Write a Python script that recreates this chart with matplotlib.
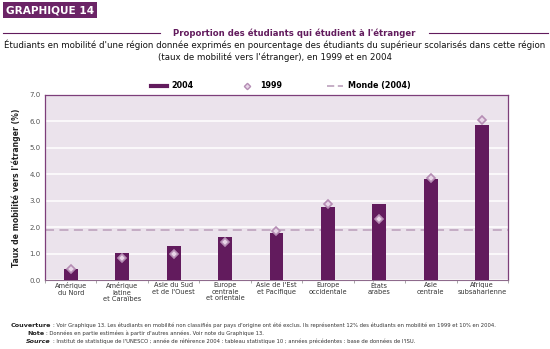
import numpy as np
import matplotlib.pyplot as plt
from matplotlib.lines import Line2D

# Taux de mobilité vers l'étranger (%) par région
regions = ["Amérique\ndu Nord", "Amérique\nlatine\net Caraïbes", "Asie du Sud\net de l'Ouest",
           "Europe\ncentrale\net orientale", "Asie de l'Est\net Pacifique", "Europe\noccidentale",
           "États\narabes", "Asie\ncentrale", "Afrique\nsubsaharienne"]
taux_2004 = [0.42, 1.04, 1.28, 1.63, 1.77, 2.76, 2.87, 3.83, 5.85]
taux_1999 = [0.40, 0.85, 1.00, 1.42, 1.84, 2.86, 2.30, 3.87, 6.05]
monde_2004 = 1.9
yticks = [0.0, 1.0, 2.0, 3.0, 4.0, 5.0, 6.0, 7.0]

violet = "#621b5d"
violet_clair = "#b58db4"
fond = "#ebe3ec"
tirets = "#c2a8c1"

plt.rcParams['font.family'] = ['DejaVu Sans']

fig = plt.figure(figsize=(5.5, 3.49), dpi=100)
ax = fig.add_axes([0.0818, 0.1977, 0.8418, 0.5301])

x = np.arange(len(regions))
ax.set_facecolor(fond)
ax.bar(x, taux_2004, width=0.27, color=violet, zorder=3)
ax.plot(x, taux_1999, linestyle='none', marker='D', markersize=4.2,
        markerfacecolor="#e8d6e8", markeredgecolor=violet_clair, markeredgewidth=1.2, zorder=4)
ax.axhline(monde_2004, color=tirets, linestyle=(0, (5, 3)), linewidth=1.3, zorder=2)

ax.set_xlim(-0.5, len(regions) - 0.5)
ax.set_ylim(0, 7)
ax.set_yticks(yticks)
ax.set_yticklabels([f"{v:.1f}" for v in yticks], fontsize=5, color="#555555")
ax.yaxis.grid(True, color="white", linewidth=1.1, zorder=1)
ax.set_axisbelow(True)

ax.set_xticks(x)
ax.set_xticklabels(regions, fontsize=4.8, color="#333333", linespacing=1.1)
ax.set_xticks(np.arange(len(regions) + 1) - 0.5, minor=True)
ax.tick_params(axis='x', which='major', length=0, pad=1.5)
ax.tick_params(axis='x', which='minor', length=2, color="#999999")
ax.tick_params(axis='y', length=0, pad=3)

for side in ['left', 'top', 'right']:
    ax.spines[side].set_color("#7d3e7a")
    ax.spines[side].set_linewidth(0.9)
ax.spines['bottom'].set_color("#8e6a8c")
ax.spines['bottom'].set_linewidth(0.8)

ax.set_ylabel("Taux de mobilité vers l'étranger (%)", fontsize=5.6, fontweight='bold',
              color="#222222", labelpad=6)

# Cartouche et titres
fig.text(0.011, 0.985, "GRAPHIQUE 14", fontsize=7.6, fontweight='bold', color="white",
         va='top', ha='left',
         bbox=dict(boxstyle='square,pad=0.3', facecolor="#6b2466", edgecolor='none'))
fig.add_artist(Line2D([0.005, 0.29], [0.905, 0.905], color=violet, linewidth=0.8))
fig.add_artist(Line2D([0.78, 0.997], [0.905, 0.905], color=violet, linewidth=0.8))
fig.text(0.535, 0.906, "Proportion des étudiants qui étudient à l'étranger", fontsize=6.1,
         fontweight='bold', color=violet, ha='center', va='center')
fig.text(0.5, 0.855, "Étudiants en mobilité d'une région donnée exprimés en pourcentage des "
         "étudiants du supérieur scolarisés dans cette région\n(taux de mobilité vers "
         "l'étranger), en 1999 et en 2004", fontsize=6.2, color="#111111", ha='center',
         va='center', linespacing=1.35)

# Légende
handles = [Line2D([], [], color=violet, linewidth=3),
           Line2D([], [], linestyle='none', marker='D', markersize=3.2, markerfacecolor="#e8d6e8",
                  markeredgecolor=violet_clair, markeredgewidth=1),
           Line2D([], [], color=tirets, linestyle=(0, (4, 2)), linewidth=1.3)]
fig.legend(handles, ["2004", "1999", "Monde (2004)"], loc='center', bbox_to_anchor=(0.51, 0.754),
           ncol=3, frameon=False, handlelength=2.0, columnspacing=5.6,
           handletextpad=0.6, prop={'weight': 'bold', 'size': 5.8})

# Notes de bas de page
notes = [("Couverture", "Voir Graphique 13. Les étudiants en mobilité non classifiés par pays d'origine "
          "ont été exclus. Ils représentent 12% des étudiants en mobilité en 1999 et 10% en 2004."),
         ("Note", "Données en partie estimées à partir d'autres années. Voir note du Graphique 13."),
         ("Source", "Institut de statistique de l'UNESCO ; année de référence 2004 : tableau statistique 10 ; "
          "années précédentes : base de données de l'ISU.")]
ys = [0.068, 0.044, 0.021]
xs_lab = [0.093, 0.080, 0.093]
for (lab, txt), yy, xl in zip(notes, ys, xs_lab):
    style = 'italic' if lab == "Source" else 'normal'
    fig.text(xl, yy, lab, fontsize=4.6, fontweight='semibold', fontstyle=style, color="#222222",
             va='center', ha='right')
    fig.text(xl + 0.003, yy, ": " + txt, fontsize=3.8, color="#333333", va='center')

fig.savefig("out.png", dpi=100)
